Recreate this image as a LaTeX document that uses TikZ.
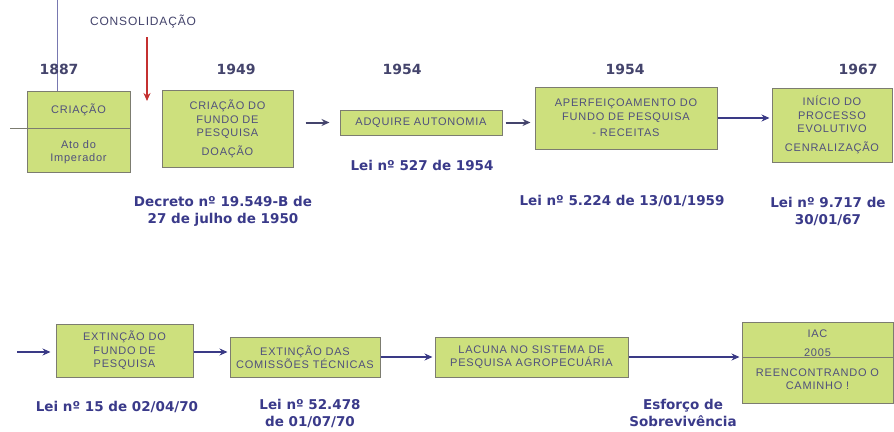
\documentclass[tikz,border=0pt]{standalone}
\usepackage{fontspec}
\setmainfont{Liberation Sans}[LetterSpace=7]
\newfontfamily\lblfont{DejaVu Sans}
\usetikzlibrary{arrows.meta}
\definecolor{boxfill}{HTML}{CDE07D}
\definecolor{boxborder}{HTML}{7C7C70}
\definecolor{boxtext}{HTML}{50507C}
\definecolor{lblcol}{HTML}{3A3A8A}
\definecolor{yrcol}{HTML}{44446C}
\definecolor{navy}{HTML}{3A3A86}
\definecolor{redarr}{HTML}{C43030}
\definecolor{guide}{HTML}{7878B0}
\begin{document}
\begin{tikzpicture}[x=1pt,y=-1pt,
  box/.style={draw=boxborder, fill=boxfill, line width=1pt, inner sep=0pt, align=center,
    font=\fontsize{11}{13.5}\selectfont, text=boxtext},
  btxt/.style={inner sep=0pt, align=center, font=\fontsize{11}{13.5}\selectfont, text=boxtext},
  lbl/.style={inner sep=0pt, align=center, font=\lblfont\bfseries\fontsize{13.5}{17}\selectfont, text=lblcol},
  yr/.style={inner sep=0pt, font=\lblfont\bfseries\fontsize{14}{16}\selectfont, text=yrcol},
  arr/.style={draw=navy, line width=2pt, -{Stealth[length=8pt,width=7pt]}},
  sarr/.style={draw=yrcol, line width=2pt, -{Stealth[length=8pt,width=7pt]}}
]
\fill[white] (0,0) rectangle (894,431);
\useasboundingbox (0,0) rectangle (894,431);

% top guide lines
\coordinate (gtop) at (57,0);
\coordinate (gleft) at (10,128);

% boxes top row
\node[box, minimum width=103pt, minimum height=81pt] (b1) at (78.5,132) {};
\node[box, minimum width=131pt, minimum height=77pt] (b2) at (227.5,129) {CRIAÇÃO DO\\FUNDO DE\\PESQUISA\\[5pt]DOAÇÃO};
\node[box, minimum width=162pt, minimum height=25pt] (b3) at (421,122.5) {ADQUIRE AUTONOMIA};
\node[box, minimum width=182pt, minimum height=62pt] (b4) at (626,118) {APERFEIÇOAMENTO DO\\FUNDO DE PESQUISA\\[3pt]- RECEITAS};
\node[box, minimum width=120pt, minimum height=74pt] (b5) at (832,125) {INÍCIO DO\\PROCESSO\\EVOLUTIVO\\[5pt]CENRALIZAÇÃO};

% box 1 content
\node[btxt] (t1a) at (78.5,110) {CRIAÇÃO};
\node[btxt] (t1b) at (78.5,152) {Ato do\\Imperador};
\draw[boxborder, line width=1pt] (gleft) -- (b1.east |- gleft);
\draw[guide, line width=1pt] (gtop) -- (gtop |- b1.north);

% consolidation
\node[btxt, font=\fontsize{12}{14}\selectfont, text=yrcol] (cons) at (143,22) {CONSOLIDAÇÃO};
\coordinate (rtop) at (147,37);
\coordinate (rbot) at (147,101);
\draw[redarr, line width=2pt, -{Stealth[length=8pt,width=7pt]}] (rtop) -- (rbot);

% years
\node[yr] (y1) at (59,69) {1887};
\node[yr] (y2) at (236,69) {1949};
\node[yr] (y3) at (402,69) {1954};
\node[yr] (y4) at (625,69) {1954};
\node[yr] (y5) at (858,69) {1967};

% top arrows
\draw[sarr, shorten <=12pt, shorten >=10pt] (b2.east |- b3.west) -- (b3.west);
\draw[sarr, shorten <=3pt, shorten >=4pt] (b3.east) -- (b4.west |- b3.east);
\draw[arr, shorten >=2pt] (b4.east) -- (b5.west |- b4.east);

% top labels
\node[lbl] (l1) at (223,211) {Decreto nº 19.549-B de\\27 de julho de 1950};
\node[lbl] (l2) at (422,165) {Lei nº 527 de 1954};
\node[lbl] (l3) at (622,201) {Lei nº 5.224 de 13/01/1959};
\node[lbl] (l4) at (828,211) {Lei nº 9.717 de\\30/01/67};

% bottom row
\node[box, minimum width=137pt, minimum height=53pt] (b6) at (124.5,350.5) {EXTINÇÃO DO\\FUNDO DE\\PESQUISA};
\node[box, minimum width=150pt, minimum height=40pt] (b7) at (305,357) {EXTINÇÃO DAS\\COMISSÕES TÉCNICAS};
\node[box, minimum width=193pt, minimum height=40pt] (b8) at (531.5,357) {LACUNA NO SISTEMA DE\\PESQUISA AGROPECUÁRIA};
\node[box, minimum width=151pt, minimum height=81pt] (b9) at (817.5,362.5) {};
\coordinate (div9) at (742,357);
\draw[boxborder, line width=1pt] (div9) -- (b9.east |- div9);
\node[btxt] (t9a) at (817.5,343) {IAC\\[5pt]2005};
\node[btxt] (t9b) at (817.5,379) {REENCONTRANDO O\\CAMINHO !};

\coordinate (start) at (17,352);
\draw[arr, shorten >=5pt] (start) -- (b6.west |- start);
\draw[arr, shorten >=2pt] (b6.east |- start) -- (b7.west |- start);
\draw[arr, shorten >=2pt] (b7.east |- b8.west) -- (b8.west);
\draw[arr, shorten >=2pt] (b8.east) -- (b9.west |- b8.east);

% bottom labels
\node[lbl] (l5) at (117,407) {Lei nº 15 de 02/04/70};
\node[lbl] (l6) at (310,413) {Lei nº 52.478\\de 01/07/70};
\node[lbl] (l7) at (683,413) {Esforço de\\Sobrevivência};
\end{tikzpicture}
\end{document}
